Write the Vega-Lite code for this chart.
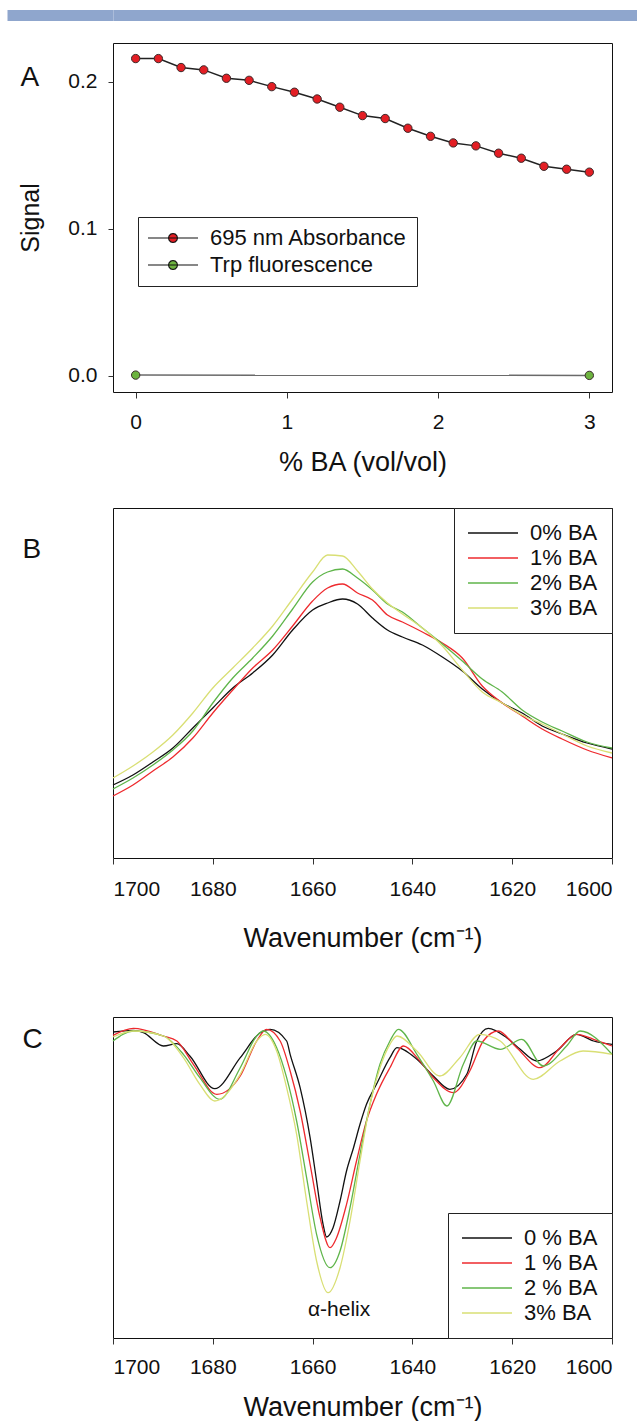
{
  "$schema": "https://vega.github.io/schema/vega-lite/v6.json",
  "padding": {"left": 1, "top": 9, "right": 0, "bottom": 0},
  "background": "white",
  "config": {
    "font": "Liberation Sans",
    "view": {"stroke": "#111111", "strokeWidth": 1},
    "axis": {"labelFont": "Liberation Sans", "titleFont": "Liberation Sans", "labelColor": "#111111", "titleColor": "#111111", "tickColor": "#333333", "domainColor": "#111111", "grid": false, "titleFontWeight": "normal", "labelFontSize": 21, "titleFontSize": 27},
    "legend": {"labelFont": "Liberation Sans", "labelFontSize": 22, "labelColor": "#111111", "labelLimit": 400}
  },
  "spacing": 21,
  "resolve": {"scale": {"color": "independent", "fill": "independent"}, "legend": {"color": "independent", "fill": "independent"}},
  "vconcat": [
    {
      "width": 524,
      "height": 11,
      "view": {"fill": null, "stroke": null},
      "data": {"values": [{"band": 0.5}]},
      "mark": {"type": "point", "opacity": 0},
      "encoding": {
        "y": {"field": "band", "type": "quantitative", "scale": {"domain": [0, 1], "nice": false},
          "axis": {"values": [0.5], "labels": false, "domain": false, "grid": true, "gridColor": "#8fa6cd", "gridWidth": 11, "gridOpacity": 1, "ticks": true, "tickSize": 106, "tickWidth": 11, "tickColor": "#8fa6cd", "title": null, "minExtent": 0}}
      }
    },
    {
      "spacing": 31,
      "resolve": {"scale": {"color": "independent", "fill": "independent"}, "legend": {"color": "independent", "fill": "independent"}},
      "vconcat": [
        {
          "width": 499,
          "height": 349,
          "data": {"values": [
            {"series": "695 nm Absorbance", "pct": 0, "signal": 0.2159},
            {"series": "695 nm Absorbance", "pct": 0.15, "signal": 0.2159},
            {"series": "695 nm Absorbance", "pct": 0.3, "signal": 0.2098},
            {"series": "695 nm Absorbance", "pct": 0.45, "signal": 0.2082},
            {"series": "695 nm Absorbance", "pct": 0.6, "signal": 0.2025},
            {"series": "695 nm Absorbance", "pct": 0.75, "signal": 0.2011},
            {"series": "695 nm Absorbance", "pct": 0.9, "signal": 0.1968},
            {"series": "695 nm Absorbance", "pct": 1.05, "signal": 0.193},
            {"series": "695 nm Absorbance", "pct": 1.2, "signal": 0.1884},
            {"series": "695 nm Absorbance", "pct": 1.35, "signal": 0.1828},
            {"series": "695 nm Absorbance", "pct": 1.5, "signal": 0.1771},
            {"series": "695 nm Absorbance", "pct": 1.65, "signal": 0.1751},
            {"series": "695 nm Absorbance", "pct": 1.8, "signal": 0.1685},
            {"series": "695 nm Absorbance", "pct": 1.95, "signal": 0.163},
            {"series": "695 nm Absorbance", "pct": 2.1, "signal": 0.1585},
            {"series": "695 nm Absorbance", "pct": 2.25, "signal": 0.1565},
            {"series": "695 nm Absorbance", "pct": 2.4, "signal": 0.1515},
            {"series": "695 nm Absorbance", "pct": 2.55, "signal": 0.1481},
            {"series": "695 nm Absorbance", "pct": 2.7, "signal": 0.1426},
            {"series": "695 nm Absorbance", "pct": 2.85, "signal": 0.1406},
            {"series": "695 nm Absorbance", "pct": 3.0, "signal": 0.1386},
            {"series": "Trp fluorescence", "pct": 0, "signal": 0.0005},
            {"series": "Trp fluorescence", "pct": 3.0, "signal": 0.0003}
          ]},
          "resolve": {"axis": {"y": "independent"}},
          "layer": [
            {
              "transform": [{"filter": "datum.series === 'Trp fluorescence'"}],
              "mark": {"type": "line", "strokeWidth": 1.5, "color": "#6a6a6a"},
              "encoding": {
                "x": {"field": "pct", "type": "quantitative", "scale": {"domain": [-0.15, 3.15], "nice": false, "zero": false},
                  "axis": {"values": [0, 1, 2, 3], "format": "d", "tickSize": 6, "labelPadding": 13, "titlePadding": 17, "domain": false, "title": "% BA (vol/vol)"}},
                "y": {"field": "signal", "type": "quantitative", "scale": {"domain": [-0.011, 0.2265], "nice": false, "zero": false},
                  "axis": {"orient": "left", "values": [0, 0.1, 0.2], "format": ".1f", "tickSize": 5, "labelPadding": 11, "domain": false, "title": "Signal", "titleFontSize": 25, "titlePadding": 24}}
              }
            },
            {
              "transform": [{"filter": "datum.series === '695 nm Absorbance'"}],
              "mark": {"type": "line", "strokeWidth": 1.5, "color": "#222222"},
              "encoding": {
                "x": {"field": "pct", "type": "quantitative"},
                "y": {"field": "signal", "type": "quantitative", "axis": null}
              }
            },
            {
              "mark": {"type": "point", "filled": true, "size": 70, "stroke": "#3a2a2a", "strokeWidth": 1, "opacity": 1},
              "encoding": {
                "x": {"field": "pct", "type": "quantitative"},
                "y": {"field": "signal", "type": "quantitative",
                  "axis": {"orient": "left", "labels": false, "ticks": false, "domain": false, "grid": false, "title": "A", "titleAngle": 0, "titleFontSize": 28, "titleAlign": "left", "titleBaseline": "alphabetic", "titleX": -93, "titleY": 42}},
                "fill": {"field": "series", "type": "nominal", "scale": {"domain": ["695 nm Absorbance", "Trp fluorescence"], "range": ["#e31e24", "#6db33f"]},
                  "legend": {"title": null, "orient": "none", "legendX": 25, "legendY": 174, "padding": 10, "strokeColor": "#222222", "fillColor": "white", "rowPadding": 5, "labelLimit": 400, "symbolType": "M-5,0H5M0.9,0L0.779,0.45L0.45,0.779L0,0.9L-0.45,0.779L-0.779,0.45L-0.9,0L-0.779,-0.45L-0.45,-0.779L0,-0.9L0.45,-0.779L0.779,-0.45Z", "symbolSize": 100, "symbolOffset": 14, "labelOffset": 26, "symbolStrokeWidth": 1.1, "symbolStrokeColor": "#111111", "symbolOpacity": 1,
                    "encode": {"symbols": {"update": {"stroke": {"value": "#111111"}, "strokeWidth": {"value": 1.1}, "strokeOpacity": {"value": 1}, "fillOpacity": {"value": 1}}}}}}
              }
            }
          ]
        },
        {
          "spacing": 64,
          "resolve": {"scale": {"color": "independent"}, "legend": {"color": "independent"}},
          "vconcat": [
            {
              "width": 499,
              "height": 350,
              "data": {"values": [
                {"series": "0% BA", "wn": 1700, "a": 73}, {"series": "0% BA", "wn": 1696, "a": 83}, {"series": "0% BA", "wn": 1692, "a": 96}, {"series": "0% BA", "wn": 1688, "a": 110}, {"series": "0% BA", "wn": 1684, "a": 130}, {"series": "0% BA", "wn": 1680, "a": 150}, {"series": "0% BA", "wn": 1676, "a": 170}, {"series": "0% BA", "wn": 1672, "a": 185}, {"series": "0% BA", "wn": 1668, "a": 203}, {"series": "0% BA", "wn": 1664, "a": 228}, {"series": "0% BA", "wn": 1660, "a": 248}, {"series": "0% BA", "wn": 1657, "a": 255}, {"series": "0% BA", "wn": 1654, "a": 259}, {"series": "0% BA", "wn": 1651, "a": 254}, {"series": "0% BA", "wn": 1648, "a": 240}, {"series": "0% BA", "wn": 1645, "a": 228}, {"series": "0% BA", "wn": 1642, "a": 221}, {"series": "0% BA", "wn": 1638, "a": 213}, {"series": "0% BA", "wn": 1634, "a": 201}, {"series": "0% BA", "wn": 1630, "a": 187}, {"series": "0% BA", "wn": 1626, "a": 169}, {"series": "0% BA", "wn": 1622, "a": 155}, {"series": "0% BA", "wn": 1618, "a": 145}, {"series": "0% BA", "wn": 1614, "a": 132}, {"series": "0% BA", "wn": 1610, "a": 124}, {"series": "0% BA", "wn": 1605, "a": 115}, {"series": "0% BA", "wn": 1600, "a": 109},
                {"series": "1% BA", "wn": 1700, "a": 62}, {"series": "1% BA", "wn": 1696, "a": 73}, {"series": "1% BA", "wn": 1692, "a": 87}, {"series": "1% BA", "wn": 1688, "a": 101}, {"series": "1% BA", "wn": 1684, "a": 120}, {"series": "1% BA", "wn": 1680, "a": 145}, {"series": "1% BA", "wn": 1676, "a": 168}, {"series": "1% BA", "wn": 1672, "a": 190}, {"series": "1% BA", "wn": 1668, "a": 208}, {"series": "1% BA", "wn": 1664, "a": 232}, {"series": "1% BA", "wn": 1660, "a": 257}, {"series": "1% BA", "wn": 1657, "a": 270}, {"series": "1% BA", "wn": 1654, "a": 274}, {"series": "1% BA", "wn": 1651, "a": 265}, {"series": "1% BA", "wn": 1648, "a": 258}, {"series": "1% BA", "wn": 1645, "a": 243}, {"series": "1% BA", "wn": 1642, "a": 236}, {"series": "1% BA", "wn": 1638, "a": 226}, {"series": "1% BA", "wn": 1634, "a": 215}, {"series": "1% BA", "wn": 1630, "a": 200}, {"series": "1% BA", "wn": 1626, "a": 172}, {"series": "1% BA", "wn": 1622, "a": 155}, {"series": "1% BA", "wn": 1618, "a": 142}, {"series": "1% BA", "wn": 1614, "a": 129}, {"series": "1% BA", "wn": 1610, "a": 119}, {"series": "1% BA", "wn": 1605, "a": 108}, {"series": "1% BA", "wn": 1600, "a": 100},
                {"series": "2% BA", "wn": 1700, "a": 69}, {"series": "2% BA", "wn": 1696, "a": 80}, {"series": "2% BA", "wn": 1692, "a": 93}, {"series": "2% BA", "wn": 1688, "a": 108}, {"series": "2% BA", "wn": 1684, "a": 127}, {"series": "2% BA", "wn": 1680, "a": 155}, {"series": "2% BA", "wn": 1676, "a": 180}, {"series": "2% BA", "wn": 1672, "a": 200}, {"series": "2% BA", "wn": 1668, "a": 222}, {"series": "2% BA", "wn": 1664, "a": 249}, {"series": "2% BA", "wn": 1660, "a": 276}, {"series": "2% BA", "wn": 1657, "a": 286}, {"series": "2% BA", "wn": 1654, "a": 289}, {"series": "2% BA", "wn": 1651, "a": 280}, {"series": "2% BA", "wn": 1648, "a": 268}, {"series": "2% BA", "wn": 1645, "a": 254}, {"series": "2% BA", "wn": 1642, "a": 246}, {"series": "2% BA", "wn": 1638, "a": 230}, {"series": "2% BA", "wn": 1634, "a": 214}, {"series": "2% BA", "wn": 1630, "a": 197}, {"series": "2% BA", "wn": 1626, "a": 179}, {"series": "2% BA", "wn": 1622, "a": 166}, {"series": "2% BA", "wn": 1618, "a": 148}, {"series": "2% BA", "wn": 1614, "a": 136}, {"series": "2% BA", "wn": 1610, "a": 127}, {"series": "2% BA", "wn": 1605, "a": 116}, {"series": "2% BA", "wn": 1600, "a": 110},
                {"series": "3% BA", "wn": 1700, "a": 80}, {"series": "3% BA", "wn": 1696, "a": 92}, {"series": "3% BA", "wn": 1692, "a": 106}, {"series": "3% BA", "wn": 1688, "a": 123}, {"series": "3% BA", "wn": 1684, "a": 145}, {"series": "3% BA", "wn": 1680, "a": 170}, {"series": "3% BA", "wn": 1676, "a": 190}, {"series": "3% BA", "wn": 1672, "a": 210}, {"series": "3% BA", "wn": 1668, "a": 232}, {"series": "3% BA", "wn": 1664, "a": 259}, {"series": "3% BA", "wn": 1660, "a": 286}, {"series": "3% BA", "wn": 1657, "a": 303}, {"series": "3% BA", "wn": 1654, "a": 302}, {"series": "3% BA", "wn": 1651, "a": 287}, {"series": "3% BA", "wn": 1648, "a": 269}, {"series": "3% BA", "wn": 1645, "a": 255}, {"series": "3% BA", "wn": 1642, "a": 244}, {"series": "3% BA", "wn": 1638, "a": 230}, {"series": "3% BA", "wn": 1634, "a": 212}, {"series": "3% BA", "wn": 1630, "a": 188}, {"series": "3% BA", "wn": 1626, "a": 166}, {"series": "3% BA", "wn": 1622, "a": 155}, {"series": "3% BA", "wn": 1618, "a": 143}, {"series": "3% BA", "wn": 1614, "a": 134}, {"series": "3% BA", "wn": 1610, "a": 124}, {"series": "3% BA", "wn": 1605, "a": 112}, {"series": "3% BA", "wn": 1600, "a": 105}
              ]},
              "mark": {"type": "line", "strokeWidth": 1.3, "interpolate": "monotone"},
              "encoding": {
                "x": {"field": "wn", "type": "quantitative", "scale": {"domain": [1600, 1700], "reverse": true, "nice": false, "zero": false},
                  "axis": {"values": [1700, 1680, 1660, 1640, 1620, 1600], "format": "d", "tickSize": 6, "labelPadding": 14, "titlePadding": 26, "domain": false, "title": "Wavenumber (cm⁻¹)"}},
                "y": {"field": "a", "type": "quantitative", "scale": {"domain": [0, 350], "nice": false},
                  "axis": {"orient": "left", "labels": false, "ticks": false, "domain": false, "grid": false, "title": "B", "titleAngle": 0, "titleFontSize": 28, "titleAlign": "left", "titleBaseline": "alphabetic", "titleX": -91, "titleY": 49}},
                "color": {"field": "series", "type": "nominal", "scale": {"domain": ["0% BA", "1% BA", "2% BA", "3% BA"], "range": ["#111111", "#ee2a2e", "#5fb54a", "#d9df74"]},
                  "legend": {"title": null, "orient": "top-right", "offset": 0, "padding": 14, "strokeColor": "#222222", "fillColor": "white", "rowPadding": 3, "symbolType": "M-5,0H5", "symbolSize": 100, "symbolOffset": 14, "labelOffset": 26, "symbolStrokeWidth": 1.5}},
                "order": {"field": "wn", "sort": "descending"}
              }
            },
            {
              "width": 499,
              "height": 321,
              "data": {"values": [
                {"series": "0 % BA", "wn": 1700, "v": 306}, {"series": "0 % BA", "wn": 1695.9, "v": 307.7}, {"series": "0 % BA", "wn": 1693.9, "v": 305.3}, {"series": "0 % BA", "wn": 1689.9, "v": 292}, {"series": "0 % BA", "wn": 1687.2, "v": 294.3}, {"series": "0 % BA", "wn": 1684.6, "v": 282}, {"series": "0 % BA", "wn": 1679.6, "v": 249.3}, {"series": "0 % BA", "wn": 1674.5, "v": 280.3}, {"series": "0 % BA", "wn": 1670.5, "v": 305.3}, {"series": "0 % BA", "wn": 1668.5, "v": 308.7}, {"series": "0 % BA", "wn": 1665.2, "v": 297}, {"series": "0 % BA", "wn": 1664.5, "v": 283.7}, {"series": "0 % BA", "wn": 1662.5, "v": 250.3}, {"series": "0 % BA", "wn": 1660.5, "v": 200.3}, {"series": "0 % BA", "wn": 1659.2, "v": 157}, {"series": "0 % BA", "wn": 1657.9, "v": 113.7}, {"series": "0 % BA", "wn": 1657.2, "v": 101}, {"series": "0 % BA", "wn": 1655.9, "v": 110.3}, {"series": "0 % BA", "wn": 1654.5, "v": 137}, {"series": "0 % BA", "wn": 1653.2, "v": 167}, {"series": "0 % BA", "wn": 1651.8, "v": 190.3}, {"series": "0 % BA", "wn": 1650.5, "v": 213.7}, {"series": "0 % BA", "wn": 1649.2, "v": 233.7}, {"series": "0 % BA", "wn": 1647.2, "v": 253.7}, {"series": "0 % BA", "wn": 1644.5, "v": 280.3}, {"series": "0 % BA", "wn": 1643.1, "v": 290.3}, {"series": "0 % BA", "wn": 1639.1, "v": 278.7}, {"series": "0 % BA", "wn": 1635.8, "v": 262}, {"series": "0 % BA", "wn": 1632.5, "v": 248.7}, {"series": "0 % BA", "wn": 1629.1, "v": 263.7}, {"series": "0 % BA", "wn": 1627.1, "v": 297}, {"series": "0 % BA", "wn": 1624.8, "v": 309.7}, {"series": "0 % BA", "wn": 1621.1, "v": 300.3}, {"series": "0 % BA", "wn": 1618.4, "v": 288.7}, {"series": "0 % BA", "wn": 1615.1, "v": 277}, {"series": "0 % BA", "wn": 1611.1, "v": 287}, {"series": "0 % BA", "wn": 1607.1, "v": 303.7}, {"series": "0 % BA", "wn": 1603.7, "v": 297}, {"series": "0 % BA", "wn": 1600, "v": 293.7},
                {"series": "1 % BA", "wn": 1700, "v": 302.7}, {"series": "1 % BA", "wn": 1695.9, "v": 309.7}, {"series": "1 % BA", "wn": 1689.9, "v": 302}, {"series": "1 % BA", "wn": 1687.2, "v": 297}, {"series": "1 % BA", "wn": 1683.9, "v": 273.7}, {"series": "1 % BA", "wn": 1679.2, "v": 243.7}, {"series": "1 % BA", "wn": 1674.5, "v": 262}, {"series": "1 % BA", "wn": 1671.2, "v": 297}, {"series": "1 % BA", "wn": 1669.2, "v": 308.7}, {"series": "1 % BA", "wn": 1666.5, "v": 297}, {"series": "1 % BA", "wn": 1664.5, "v": 267}, {"series": "1 % BA", "wn": 1662.5, "v": 227}, {"series": "1 % BA", "wn": 1660.5, "v": 173.7}, {"series": "1 % BA", "wn": 1658.5, "v": 120.3}, {"series": "1 % BA", "wn": 1656.5, "v": 90.3}, {"series": "1 % BA", "wn": 1655.2, "v": 100.3}, {"series": "1 % BA", "wn": 1653.2, "v": 133.7}, {"series": "1 % BA", "wn": 1651.2, "v": 177}, {"series": "1 % BA", "wn": 1649.2, "v": 217}, {"series": "1 % BA", "wn": 1647.2, "v": 243.7}, {"series": "1 % BA", "wn": 1644.5, "v": 270.3}, {"series": "1 % BA", "wn": 1641.8, "v": 292}, {"series": "1 % BA", "wn": 1638.5, "v": 277}, {"series": "1 % BA", "wn": 1635.8, "v": 260.3}, {"series": "1 % BA", "wn": 1631.8, "v": 245.3}, {"series": "1 % BA", "wn": 1628.5, "v": 267}, {"series": "1 % BA", "wn": 1625.8, "v": 297}, {"series": "1 % BA", "wn": 1622.8, "v": 307}, {"series": "1 % BA", "wn": 1619.1, "v": 290.3}, {"series": "1 % BA", "wn": 1614.4, "v": 270.3}, {"series": "1 % BA", "wn": 1610.4, "v": 290.3}, {"series": "1 % BA", "wn": 1607.1, "v": 303.7}, {"series": "1 % BA", "wn": 1603.7, "v": 298.7}, {"series": "1 % BA", "wn": 1600, "v": 292},
                {"series": "2 % BA", "wn": 1700, "v": 297}, {"series": "2 % BA", "wn": 1695.9, "v": 307}, {"series": "2 % BA", "wn": 1689.9, "v": 302}, {"series": "2 % BA", "wn": 1685.9, "v": 283.7}, {"series": "2 % BA", "wn": 1682.6, "v": 260.3}, {"series": "2 % BA", "wn": 1678.6, "v": 238.7}, {"series": "2 % BA", "wn": 1674.5, "v": 270.3}, {"series": "2 % BA", "wn": 1671.2, "v": 302}, {"series": "2 % BA", "wn": 1669.9, "v": 307}, {"series": "2 % BA", "wn": 1667.2, "v": 290.3}, {"series": "2 % BA", "wn": 1665.2, "v": 260.3}, {"series": "2 % BA", "wn": 1663.2, "v": 217}, {"series": "2 % BA", "wn": 1661.2, "v": 160.3}, {"series": "2 % BA", "wn": 1659.2, "v": 103.7}, {"series": "2 % BA", "wn": 1656.5, "v": 70.3}, {"series": "2 % BA", "wn": 1654.5, "v": 87}, {"series": "2 % BA", "wn": 1652.5, "v": 130.3}, {"series": "2 % BA", "wn": 1650.5, "v": 183.7}, {"series": "2 % BA", "wn": 1648.5, "v": 233.7}, {"series": "2 % BA", "wn": 1646.5, "v": 273.7}, {"series": "2 % BA", "wn": 1644.5, "v": 297}, {"series": "2 % BA", "wn": 1642.8, "v": 308.7}, {"series": "2 % BA", "wn": 1639.1, "v": 283.7}, {"series": "2 % BA", "wn": 1635.8, "v": 257}, {"series": "2 % BA", "wn": 1633.1, "v": 232}, {"series": "2 % BA", "wn": 1629.8, "v": 273.7}, {"series": "2 % BA", "wn": 1627.1, "v": 297}, {"series": "2 % BA", "wn": 1622.4, "v": 288.7}, {"series": "2 % BA", "wn": 1618.1, "v": 298.7}, {"series": "2 % BA", "wn": 1613.8, "v": 272}, {"series": "2 % BA", "wn": 1609.1, "v": 292}, {"series": "2 % BA", "wn": 1606.4, "v": 307}, {"series": "2 % BA", "wn": 1600, "v": 283.7},
                {"series": "3% BA", "wn": 1700, "v": 301}, {"series": "3% BA", "wn": 1695.9, "v": 307}, {"series": "3% BA", "wn": 1689.9, "v": 302}, {"series": "3% BA", "wn": 1685.9, "v": 280.3}, {"series": "3% BA", "wn": 1682.6, "v": 253.7}, {"series": "3% BA", "wn": 1679.6, "v": 237}, {"series": "3% BA", "wn": 1674.5, "v": 263.7}, {"series": "3% BA", "wn": 1671.2, "v": 297}, {"series": "3% BA", "wn": 1669.5, "v": 303.7}, {"series": "3% BA", "wn": 1667.2, "v": 287}, {"series": "3% BA", "wn": 1665.2, "v": 250.3}, {"series": "3% BA", "wn": 1663.2, "v": 203.7}, {"series": "3% BA", "wn": 1661.2, "v": 137}, {"series": "3% BA", "wn": 1659.2, "v": 77}, {"series": "3% BA", "wn": 1656.9, "v": 45.3}, {"series": "3% BA", "wn": 1654.5, "v": 70.3}, {"series": "3% BA", "wn": 1652.5, "v": 117}, {"series": "3% BA", "wn": 1650.5, "v": 177}, {"series": "3% BA", "wn": 1648.5, "v": 233.7}, {"series": "3% BA", "wn": 1646.5, "v": 270.3}, {"series": "3% BA", "wn": 1644.5, "v": 293.7}, {"series": "3% BA", "wn": 1643.1, "v": 302}, {"series": "3% BA", "wn": 1639.1, "v": 287}, {"series": "3% BA", "wn": 1634.5, "v": 262}, {"series": "3% BA", "wn": 1630.5, "v": 280.3}, {"series": "3% BA", "wn": 1626.5, "v": 303.7}, {"series": "3% BA", "wn": 1622.4, "v": 297}, {"series": "3% BA", "wn": 1615.8, "v": 258.7}, {"series": "3% BA", "wn": 1610.4, "v": 277}, {"series": "3% BA", "wn": 1605.8, "v": 287}, {"series": "3% BA", "wn": 1600, "v": 283.7}
              ]},
              "layer": [
                {
                  "mark": {"type": "line", "strokeWidth": 1.3, "interpolate": "monotone"},
                  "encoding": {
                    "x": {"field": "wn", "type": "quantitative", "scale": {"domain": [1600, 1700], "reverse": true, "nice": false, "zero": false},
                      "axis": {"values": [1700, 1680, 1660, 1640, 1620, 1600], "format": "d", "tickSize": 6, "labelPadding": 12, "titlePadding": 17, "domain": false, "title": "Wavenumber (cm⁻¹)"}},
                    "y": {"field": "v", "type": "quantitative", "scale": {"domain": [0, 321], "nice": false},
                      "axis": {"orient": "left", "labels": false, "ticks": false, "domain": false, "grid": false, "title": "C", "titleAngle": 0, "titleFontSize": 28, "titleAlign": "left", "titleBaseline": "alphabetic", "titleX": -91, "titleY": 30}},
                    "color": {"field": "series", "type": "nominal", "scale": {"domain": ["0 % BA", "1 % BA", "2 % BA", "3% BA"], "range": ["#111111", "#ee2a2e", "#5fb54a", "#d9df74"]},
                      "legend": {"title": null, "orient": "bottom-right", "offset": 0, "padding": 14, "strokeColor": "#222222", "fillColor": "white", "rowPadding": 3, "symbolType": "M-5,0H5", "symbolSize": 100, "symbolOffset": 14, "labelOffset": 26, "symbolStrokeWidth": 1.5}},
                    "order": {"field": "wn", "sort": "descending"}
                  }
                },
                {
                  "transform": [
                    {"filter": "datum.series === '3% BA'"},
                    {"joinaggregate": [{"op": "min", "field": "v", "as": "vmin"}]},
                    {"filter": "datum.v === datum.vmin"}
                  ],
                  "mark": {"type": "text", "text": "α-helix", "fontSize": 21, "baseline": "top", "dy": 6, "dx": 11, "font": "Liberation Sans", "color": "#111111"},
                  "encoding": {
                    "x": {"field": "wn", "type": "quantitative"},
                    "y": {"field": "v", "type": "quantitative"}
                  }
                }
              ]
            }
          ]
        }
      ]
    }
  ]
}
